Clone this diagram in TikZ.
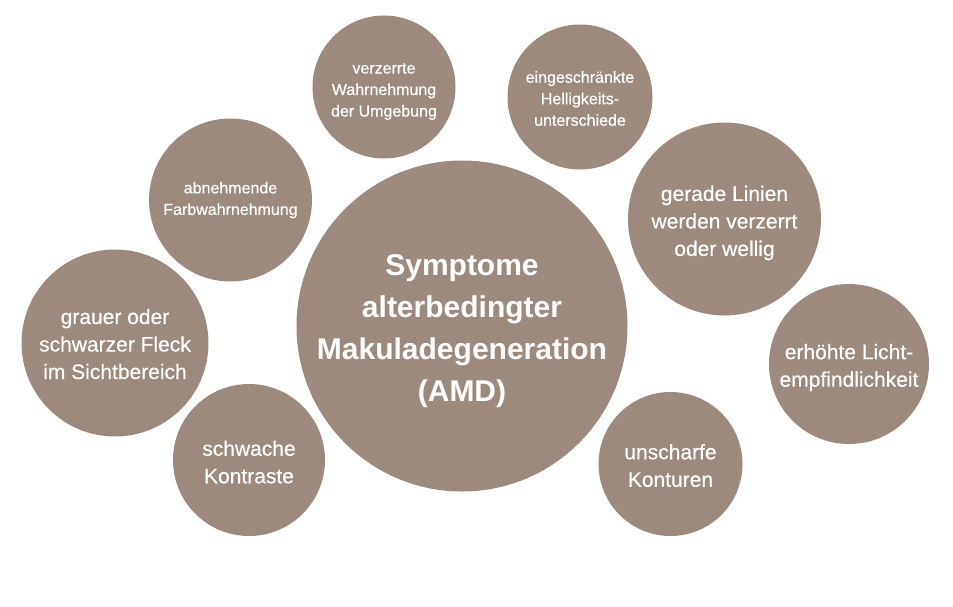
\documentclass[tikz,border=0pt]{standalone}
\usepackage{fontspec}
\setmainfont{Liberation Sans}
\newfontfamily\medfont[FakeBold=0.35]{Liberation Sans}
\definecolor{bubble}{HTML}{9C8A7E}
\tikzset{
  bub/.style={circle, fill=bubble, draw=none, inner sep=0pt},
  txt/.style={text=white, align=center, inner sep=0pt},
  small/.style={txt, font=\medfont\fontsize{16}{21.5}\selectfont},
  big/.style={txt, font=\medfont\fontsize{21}{27.5}\selectfont},
  main/.style={txt, font=\bfseries\fontsize{30}{42}\selectfont}
}
\begin{document}
\begin{tikzpicture}[x=1pt,y=-1pt]
\path[use as bounding box] (0,0) rectangle (953,606);
\node[bub, minimum size=331pt] (amd) at (462,326) {};
\node[bub, minimum size=143pt] (umg) at (384,87) {};
\node[bub, minimum size=145pt] (hell) at (580,97) {};
\node[bub, minimum size=163pt] (farb) at (230.5,200) {};
\node[bub, minimum size=193pt] (lin) at (724.5,219) {};
\node[bub, minimum size=187pt] (fleck) at (115,343) {};
\node[bub, minimum size=160pt] (licht) at (849,364) {};
\node[bub, minimum size=152pt] (kontr) at (249,460) {};
\node[bub, minimum size=144pt] (kont) at (670.5,464) {};
\node[main] (amdt) at ([yshift=-5pt]amd.center) {Symptome\\alterbedingter\\Makuladegeneration\\(AMD)};
\node[small] (umgt) at ([yshift=-4.5pt]umg.center) {verzerrte\\Wahrnehmung\\der Umgebung};
\node[small] (hellt) at ([yshift=-1.5pt]hell.center) {eingeschränkte\\Helligkeits-\\unterschiede};
\node[small] (farbt) at ([yshift=0pt]farb.center) {abnehmende\\Farbwahrnehmung};
\node[big] (lint) at ([yshift=-4pt]lin.center) {gerade Linien\\werden verzerrt\\oder wellig};
\node[big] (fleckt) at ([yshift=-1pt]fleck.center) {grauer oder\\schwarzer Fleck\\im Sichtbereich};
\node[big] (lichtt) at ([yshift=-3.5pt]licht.center) {erhöhte Licht-\\empfindlichkeit};
\node[big] (kontrt) at ([yshift=-2pt]kontr.center) {schwache\\Kontraste};
\node[big] (kontt) at ([yshift=-1.5pt]kont.center) {unscharfe\\Konturen};
\end{tikzpicture}
\end{document}
